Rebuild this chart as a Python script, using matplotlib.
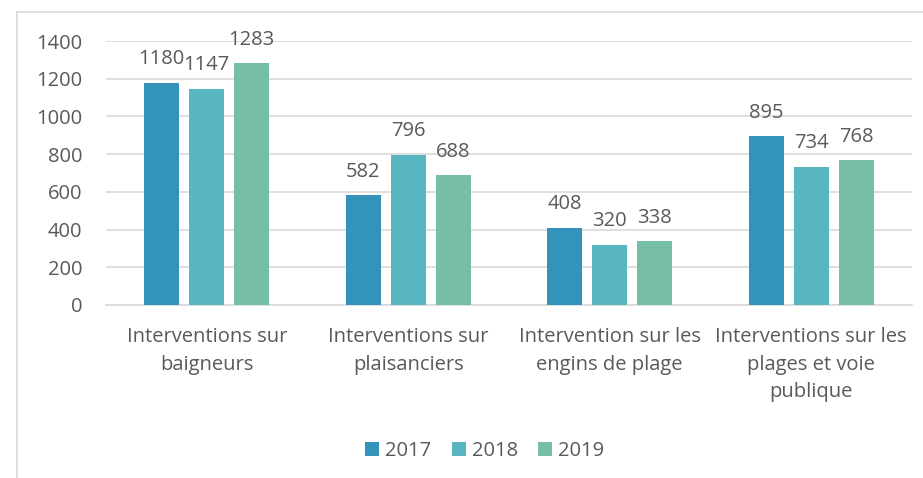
import numpy as np
import matplotlib
matplotlib.use("Agg")
import matplotlib.pyplot as plt
from matplotlib.lines import Line2D

categories = ["Interventions sur\nbaigneurs", "Interventions sur\nplaisanciers",
              "Intervention sur les\nengins de plage", "Interventions sur les\nplages et voie\npublique"]
years = ["2017", "2018", "2019"]
v2017 = [1180, 582, 408, 895]
v2018 = [1147, 796, 320, 734]
v2019 = [1283, 688, 338, 768]
colors = ["#3393BA", "#58B6C0", "#76BEA5"]

plt.rcParams['font.family'] = ['Open Sans', 'DejaVu Sans']
txt = "#595959"
fs = 14.5

fig = plt.figure(figsize=(9.23, 4.78), dpi=100)
ax = fig.add_axes([0.1148, 0.362, 0.8732, 0.552])

x = np.arange(len(categories))
w = 0.174
step = 0.223
series = [v2017, v2018, v2019]
for i, (vals, yr, c) in enumerate(zip(series, years, colors)):
    bars = ax.bar(x + (i - 1) * step, vals, w, color=c, label=yr, zorder=3)
    for b, v in zip(bars, vals):
        ax.annotate(str(v), (b.get_x() + b.get_width() / 2, v), xytext=(0, 17),
                    textcoords="offset points", ha="center", va="center",
                    fontsize=fs, color=txt)

ax.set_xlim(-0.5, len(categories) - 0.5)
ax.set_ylim(0, 1400)
ax.set_yticks(range(0, 1401, 200))
ax.grid(axis="y", color="#D9D9D9", linewidth=1.2, zorder=0)
for s in ["top", "right", "left"]:
    ax.spines[s].set_visible(False)
ax.spines["bottom"].set_color("#D9D9D9")
ax.spines["bottom"].set_linewidth(1.2)
ax.tick_params(axis="both", length=0, labelcolor=txt, labelsize=fs)
ax.tick_params(axis="y", pad=17)
ax.tick_params(axis="x", pad=16)
ax.set_xticks(x)
ax.set_xticklabels(categories, linespacing=1.5)

ax.legend(loc="center", bbox_to_anchor=(0.47, -0.555), ncol=3, frameon=False,
          fontsize=fs, labelcolor=txt, handlelength=0.7, handleheight=0.7,
          handletextpad=0.3, columnspacing=1.0)

fig.add_artist(Line2D([0.018, 1.0], [0.975, 0.975], color="#D9D9D9", linewidth=1.2))
fig.add_artist(Line2D([0.018, 0.018], [0.0, 0.975], color="#D9D9D9", linewidth=1.2))

fig.savefig("out.png", dpi=100)
